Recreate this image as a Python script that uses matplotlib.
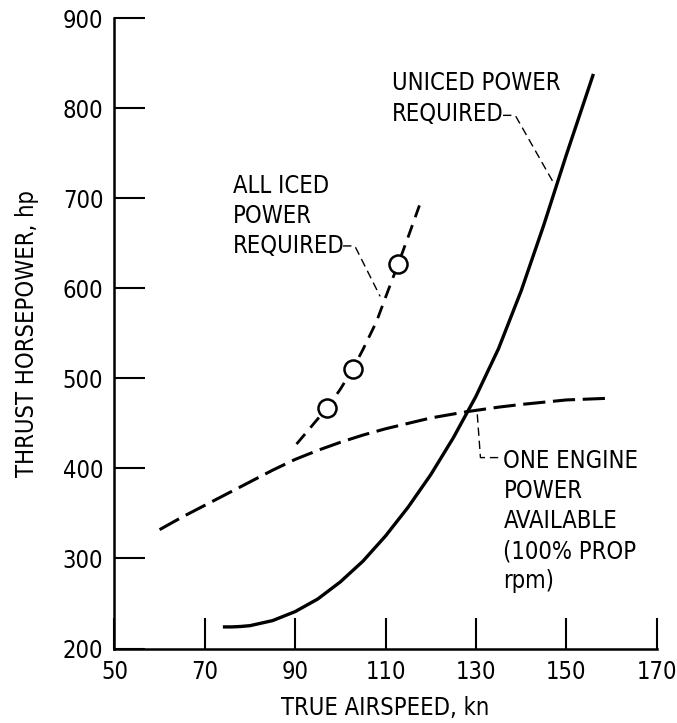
import matplotlib
matplotlib.use('Agg')
import matplotlib.pyplot as plt
import numpy as np

plt.rcParams['font.family'] = ['DejaVu Sans']
plt.rcParams['font.stretch'] = 'condensed'
plt.rcParams['lines.scale_dashes'] = False

# Uniced power required (solid curve)
uniced_speed = [74, 76, 78, 80, 85, 90, 95, 100, 105, 110, 115, 120, 125, 130, 135, 140, 145, 150, 156]
uniced_hp = [224, 224, 224.5, 225.4, 231, 241, 255, 274, 297, 325, 357, 393, 434, 480, 533, 597, 670, 748, 838]

# All iced power required (short dashes) and test points
iced_speed = [90.3, 93, 95, 97.1, 100, 102.7, 105, 108, 110, 112.8, 115, 117.5]
iced_hp = [427, 443, 455, 467, 488, 510, 532, 563, 590, 627, 657, 692]
iced_pt_speed = [97.1, 102.7, 112.8]
iced_pt_hp = [467, 510, 627]

# One engine power available (long dashes)
avail_speed = [60, 65, 70, 75, 80, 85, 90, 95, 100, 105, 110, 115, 120, 128, 135, 140, 150, 160]
avail_hp = [332, 346, 359, 372, 385, 398, 410, 420, 429, 437, 444, 450, 456, 463, 468, 471, 476, 478]

x_ticks = [50, 70, 90, 110, 130, 150, 170]
y_ticks = [200, 300, 400, 500, 600, 700, 800, 900]

fig = plt.figure(figsize=(6.77, 7.23), dpi=100)
ax = fig.add_axes([0.169, 0.103, 0.801, 0.872])

ax.plot(uniced_speed, uniced_hp, color='black', lw=2.4, solid_capstyle='butt')
ax.plot(avail_speed, avail_hp, color='black', lw=2.2, dashes=(16, 5.5), dash_capstyle='butt')
ax.plot(iced_speed, iced_hp, color='black', lw=2.0, dashes=(9.5, 6), dash_capstyle='butt')
ax.plot(iced_pt_speed, iced_pt_hp, linestyle='none', marker='o', ms=13,
        mfc='white', mec='black', mew=1.8, zorder=5)

# leader lines
lead = dict(color='black', lw=1.0, dashes=(6, 3.5))
ax.plot([100.6, 103.2, 108.8], [647, 647, 591], **lead)
ax.plot([136.0, 138.7, 147.3], [792, 792, 716], **lead)
ax.plot([130.3, 131.0, 135.0], [460, 412, 412], **lead)

fs = 17
ax.text(76.3, 726.5, 'ALL ICED\nPOWER\nREQUIRED', fontsize=fs, va='top', ha='left', linespacing=1.31)
ax.text(111.5, 841.5, 'UNICED POWER\nREQUIRED', fontsize=fs, va='top', ha='left', linespacing=1.36)
ax.text(136.1, 421, 'ONE ENGINE\nPOWER\nAVAILABLE\n(100% PROP\nrpm)', fontsize=fs,
        va='top', ha='left', linespacing=1.31)

ax.set_xlim(50, 170)
ax.set_ylim(200, 900)
ax.set_xticks(x_ticks)
ax.set_yticks(y_ticks)
ax.tick_params(direction='in', length=22, width=1.5, labelsize=fs, pad=8)
for s in ['top', 'right']:
    ax.spines[s].set_visible(False)
for s in ['left', 'bottom']:
    ax.spines[s].set_linewidth(1.8)

ax.set_xlabel('TRUE AIRSPEED, kn', fontsize=fs, labelpad=9)
ax.set_ylabel('THRUST HORSEPOWER, hp', fontsize=fs, labelpad=17)

plt.savefig('out.png', dpi=100)
